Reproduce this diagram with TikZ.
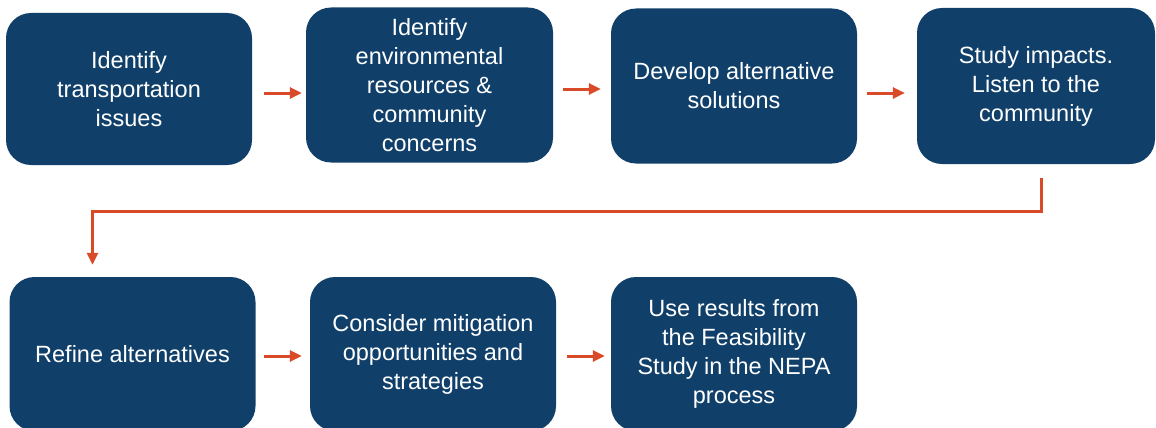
\documentclass[tikz,border=0pt]{standalone}
\usepackage{fontspec}
\setmainfont{Liberation Sans}
\usetikzlibrary{arrows.meta}
\definecolor{Box}{RGB}{16, 64, 106}
\definecolor{Arr}{RGB}{217, 74, 40}
\tikzset{
  stepbox/.style={fill=Box, rounded corners=25pt, text=white, align=center,
    inner sep=0pt, font=\fontsize{23.5}{29}\selectfont},
  flow/.style={draw=Arr, line width=3pt, -{Triangle[length=12pt,width=11pt]}}
}

\begin{document}
\begin{tikzpicture}[x=1pt,y=-1pt]
  \useasboundingbox (0,0) rectangle (1156,428);
  % top row
  \node[stepbox, minimum width=246pt, minimum height=152pt] (ident) at (129,89) {Identify\\transportation\\issues};
  \node[stepbox, minimum width=247pt, minimum height=155pt] (resrc) at (429.5,85) {Identify\\environmental\\resources \&\\community\\concerns};
  \node[stepbox, minimum width=246pt, minimum height=155pt] (devel) at (734,86) {Develop alternative\\solutions};
  \node[stepbox, minimum width=238pt, minimum height=156pt] (study) at (1036,86) {Study impacts.\\Listen to the\\community};
  % bottom row
  \node[stepbox, minimum width=246pt, minimum height=154pt] (refine) at (132.5,354) {Refine alternatives};
  \node[stepbox, minimum width=246pt, minimum height=154pt] (mitig) at (433,354) {Consider mitigation\\opportunities and\\strategies};
  \node[stepbox, minimum width=246pt, minimum height=154pt] (nepa) at (734,354) {Use results from\\the Feasibility\\Study in the NEPA\\process};
  % arrows
  \draw[flow] ([shift={(12,4)}]ident.east) -- ([shift={(-4,8)}]resrc.west);
  \draw[flow] ([shift={(10,4)}]resrc.east) -- ([shift={(-10,3)}]devel.west);
  \draw[flow] ([shift={(10,7)}]devel.east) -- ([shift={(-12,7)}]study.west);
  \draw[flow] ([shift={(5,14)}]study.south) -- ++(0,33) -| ([shift={(-40,-12)}]refine.north);
  \draw[flow] ([shift={(8,2)}]refine.east) -- ([shift={(-8,2)}]mitig.west);
  \draw[flow] ([shift={(11,2)}]mitig.east) -- ([shift={(-6,2)}]nepa.west);
\end{tikzpicture}
\end{document}
